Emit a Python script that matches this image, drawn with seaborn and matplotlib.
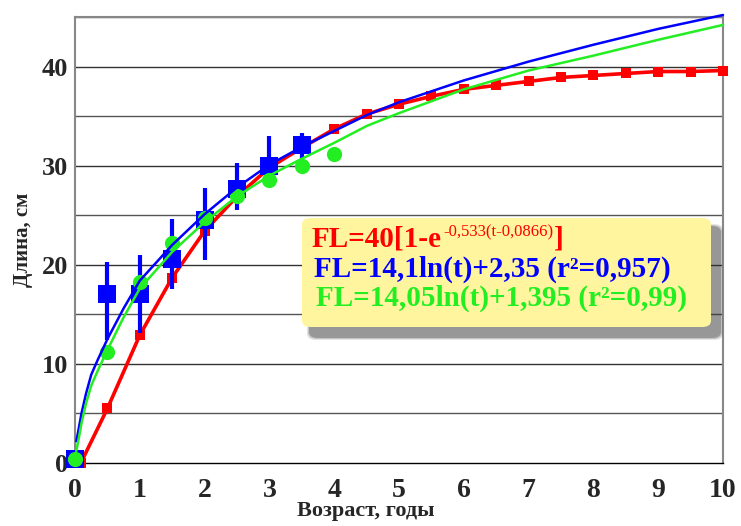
import numpy as np
import pandas as pd
import matplotlib
matplotlib.use("Agg")
import matplotlib.pyplot as plt
import seaborn as sns
from matplotlib.patches import FancyBboxPatch
from matplotlib.ticker import MultipleLocator

# ---- data ----
vb_age = [0.09, 0.5, 1, 1.5, 2, 2.5, 3, 3.5, 4, 4.5, 5, 5.5, 6, 6.5, 7, 7.5, 8, 8.5, 9, 9.5, 10]
vb_len = [0.0, 5.5, 12.9, 18.7, 23.4, 26.9, 29.8, 31.8, 33.7, 35.2, 36.2, 37.0, 37.7, 38.1,
          38.5, 38.9, 39.1, 39.3, 39.5, 39.5, 39.6]

obs_age = [0, 0.5, 1, 1.5, 2, 2.5, 3, 3.5]
obs_len = [0.4, 17.05, 17.1, 20.6, 24.5, 27.6, 30.0, 32.1]
obs_low = [0.4, 12.4, 13.1, 17.6, 20.5, 25.5, 28.4, 30.4]
obs_high = [0.4, 20.3, 21.0, 24.6, 27.7, 30.3, 33.0, 33.3]

bc_age = [0, 0.5, 1, 1.5, 2, 2.5, 3, 3.5, 4]
bc_len = [0.4, 11.2, 18.3, 22.2, 24.7, 26.9, 28.6, 30.0, 31.2]

fit_t = [0.02, 0.05, 0.1, 0.17, 0.25, 0.35, 0.5, 0.75, 1, 1.5, 2, 2.5, 3, 3.5, 4, 4.5, 5,
         6, 7, 8, 9, 10]
fit_blue = [2.2, 3.2, 5.0, 7.0, 8.9, 10.4, 12.5, 15.6, 18.4, 22.0, 25.1, 27.8, 30.1, 31.9,
            33.5, 35.1, 36.4, 38.6, 40.5, 42.2, 43.8, 45.2]
fit_green = [1.2, 2.2, 4.0, 6.0, 7.8, 9.3, 11.4, 14.7, 17.6, 21.3, 24.3, 26.9, 29.0, 30.7,
             32.3, 34.0, 35.3, 37.7, 39.6, 41.1, 42.7, 44.2]

x_ticks = list(range(0, 11))
y_ticks = [0, 10, 20, 30, 40]
x_label = "Возраст, годы"
y_label = "Длина, см"
eq_red = ["FL=40[1-e", "-0,533(t-0,0866)", "]"]
eq_blue = "FL=14,1ln(t)+2,35 (r²=0,957)"
eq_green = "FL=14,05ln(t)+1,395 (r²=0,99)"

RED = "#ff0000"
BLUE = "#0000ff"
GREEN = "#22ee22"

sns.set_style("white")
plt.rcParams["font.family"] = ["Liberation Serif", "DejaVu Serif"]
plt.rcParams["font.weight"] = "bold"

W, H = 741, 526
fig = plt.figure(figsize=(W / 100, H / 100), dpi=100)
ax = fig.add_axes([75 / W, 1 - 463 / H, 648 / W, 446 / H])

ax.set_xlim(0, 10)
ax.set_ylim(0, 45)

# grid
for yv in np.arange(5, 46, 5):
    ax.axhline(yv, color="#333333" if yv % 10 == 0 else "#555555", lw=1.0, zorder=0.5)

# curves
df_vb = pd.DataFrame({"t": vb_age, "L": vb_len})
df_fit = pd.DataFrame({"t": fit_t, "blue": fit_blue, "green": fit_green})

sns.lineplot(data=df_vb, x="t", y="L", color=RED, lw=2.6, marker="s", markersize=7,
             markeredgewidth=0, estimator=None, sort=False, ax=ax, zorder=3, clip_on=False)

ax.errorbar(obs_age[1:], obs_len[1:],
            yerr=[np.array(obs_len[1:]) - np.array(obs_low[1:]),
                  np.array(obs_high[1:]) - np.array(obs_len[1:])],
            fmt="none", ecolor=BLUE, elinewidth=3, capsize=0, zorder=4)
sns.scatterplot(x=obs_age, y=obs_len, marker="s", s=150, color=BLUE, linewidth=0,
                ax=ax, zorder=5, clip_on=False)
sns.scatterplot(x=bc_age, y=bc_len, marker="o", s=120, color=GREEN, linewidth=0,
                ax=ax, zorder=6, clip_on=False)

sns.lineplot(data=df_fit, x="t", y="blue", color=BLUE, lw=1.8, estimator=None,
             sort=False, ax=ax, zorder=7, clip_on=False)
sns.lineplot(data=df_fit, x="t", y="green", color=GREEN, lw=1.8, estimator=None,
             sort=False, ax=ax, zorder=7, clip_on=False)

# axes styling
ax.set_xticks(x_ticks)
ax.set_yticks(y_ticks)
ax.xaxis.set_minor_locator(MultipleLocator(0.5))
ax.tick_params(axis="x", which="both", direction="out", length=5, width=1, color="black",
               labelsize=20, pad=6)
ax.tick_params(axis="y", which="both", length=0, labelsize=19, pad=5)
for lab in ax.get_xticklabels() + ax.get_yticklabels():
    lab.set_fontweight("bold")

for s in ["left", "right", "top"]:
    ax.spines[s].set_color("#888888")
    ax.spines[s].set_linewidth(1.5)
ax.spines["bottom"].set_color("black")
ax.spines["bottom"].set_linewidth(1.0)

ax.set_xlabel(x_label, fontsize=16, fontweight="bold")
ax.set_ylabel(y_label, fontsize=15, fontweight="bold")
ax.xaxis.set_label_coords((366 - 75) / 648, -38 / 446)
ax.yaxis.set_label_coords((33 - 75) / 648, (463 - 240) / 446)

# legend box with shadow
def fx(px):
    return px / W

def fy(py):
    return 1 - py / H

for i, a in enumerate([0.12, 0.18, 0.3]):
    d = 3 - i
    sh = FancyBboxPatch((fx(310 - d), fy(337 + d)), fx(410 + 2 * d), (110 + 2 * d) / H,
                        boxstyle="round,pad=0,rounding_size=0.012", transform=fig.transFigure,
                        facecolor="#303030", edgecolor="none", alpha=a, zorder=8)
    fig.add_artist(sh)
box = FancyBboxPatch((fx(302), fy(327)), fx(409), 109 / H,
                     boxstyle="round,pad=0,rounding_size=0.012", transform=fig.transFigure,
                     facecolor="#fff59e", edgecolor="none", zorder=9)
fig.add_artist(box)

fs = 21
renderer = fig.canvas.get_renderer()
t1 = fig.text(fx(312), fy(247), eq_red[0], color=RED, fontsize=fs, fontweight="bold",
              va="baseline", ha="left", zorder=10)
w1 = t1.get_window_extent(renderer).width
t2 = fig.text(fx(312) + (w1 + 1) / W, fy(236), eq_red[1], color=RED, fontsize=12,
              fontweight="normal", va="baseline", ha="left", zorder=10)
w2 = t2.get_window_extent(renderer).width
fig.text(fx(312) + (w1 + w2 + 2) / W, fy(247), eq_red[2], color=RED, fontsize=fs,
         fontweight="bold", va="baseline", ha="left", zorder=10)

fig.text(fx(314), fy(277), eq_blue, color=BLUE,
         fontsize=fs, fontweight="bold", va="baseline", ha="left", zorder=10)
fig.text(fx(316), fy(306), eq_green, color=GREEN,
         fontsize=fs, fontweight="bold", va="baseline", ha="left", zorder=10)

fig.savefig("out.png", dpi=100)
